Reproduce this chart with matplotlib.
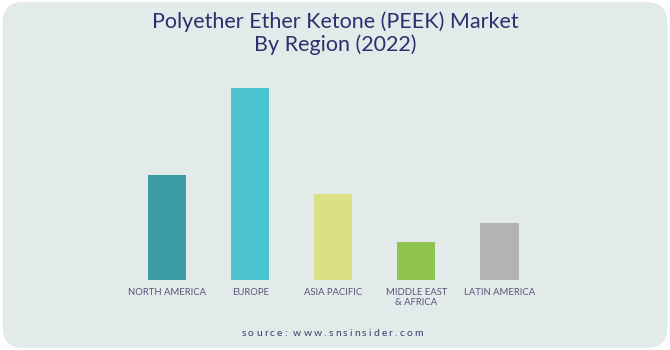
import matplotlib
matplotlib.use("Agg")
import matplotlib.pyplot as plt
from matplotlib.patches import FancyBboxPatch

# data (relative heights)
regions = ["NORTH AMERICA", "EUROPE", "ASIA PACIFIC", "MIDDLE EAST\n& AFRICA", "LATIN AMERICA"]
values = [105, 192, 86, 38, 57]
colors = ["#3d9da6", "#4dc4d2", "#dce084", "#8fc44f", "#b2b3b2"]

plt.rcParams['font.family'] = ['Lato', 'DejaVu Sans']

fig = plt.figure(figsize=(6.7, 3.5), dpi=100)
fig.patch.set_facecolor("white")

# rounded grey card behind everything
card = FancyBboxPatch((0.004, 0.006), 0.992, 0.988,
                      boxstyle="round,pad=0,rounding_size=0.03",
                      transform=fig.transFigure, facecolor="#e3ebea",
                      edgecolor="none", mutation_aspect=670 / 350, zorder=-10)
fig.patches.append(card)

ax = fig.add_axes([0.1873, 0.2, 0.6201, 0.5714])
ax.set_facecolor("none")
x = range(len(regions))
ax.bar(x, values, width=0.46, color=colors, edgecolor="none")
ax.set_xlim(-0.5, 4.5)
ax.set_ylim(0, 200)
ax.set_yticks([])
ax.set_xticks(list(x))
ax.set_xticklabels(regions, fontsize=6.8, color="#55557a", linespacing=1.1, va="top")
ax.tick_params(axis="x", length=0, pad=6)
for s in ax.spines.values():
    s.set_visible(False)

fig.text(0.5, 0.905, "Polyether Ether Ketone (PEEK) Market\nBy Region (2022)",
         ha="center", va="center", fontsize=15.5, color="#2f2e6e", linespacing=1.1)

# letter-spaced source line
src = "source: www.snsinsider.com"
renderer = fig.canvas.get_renderer()
track = 2.1  # extra px between letters
widths = []
for ch in src:
    t = fig.text(0, 0, ch if ch != " " else "n", fontsize=7.5)
    widths.append(t.get_window_extent(renderer).width if ch != " " else 2.2)
    t.remove()
total = sum(widths) + track * (len(src) - 1)
xpos = 332 - total / 2
for ch, w in zip(src, widths):
    if ch != " ":
        fig.text(xpos / 670, 1 - 333 / 350, ch, fontsize=7.5, color="#3d3d6b",
                 ha="left", va="center")
    xpos += w + track

fig.savefig("out.png", dpi=100, facecolor="white")
